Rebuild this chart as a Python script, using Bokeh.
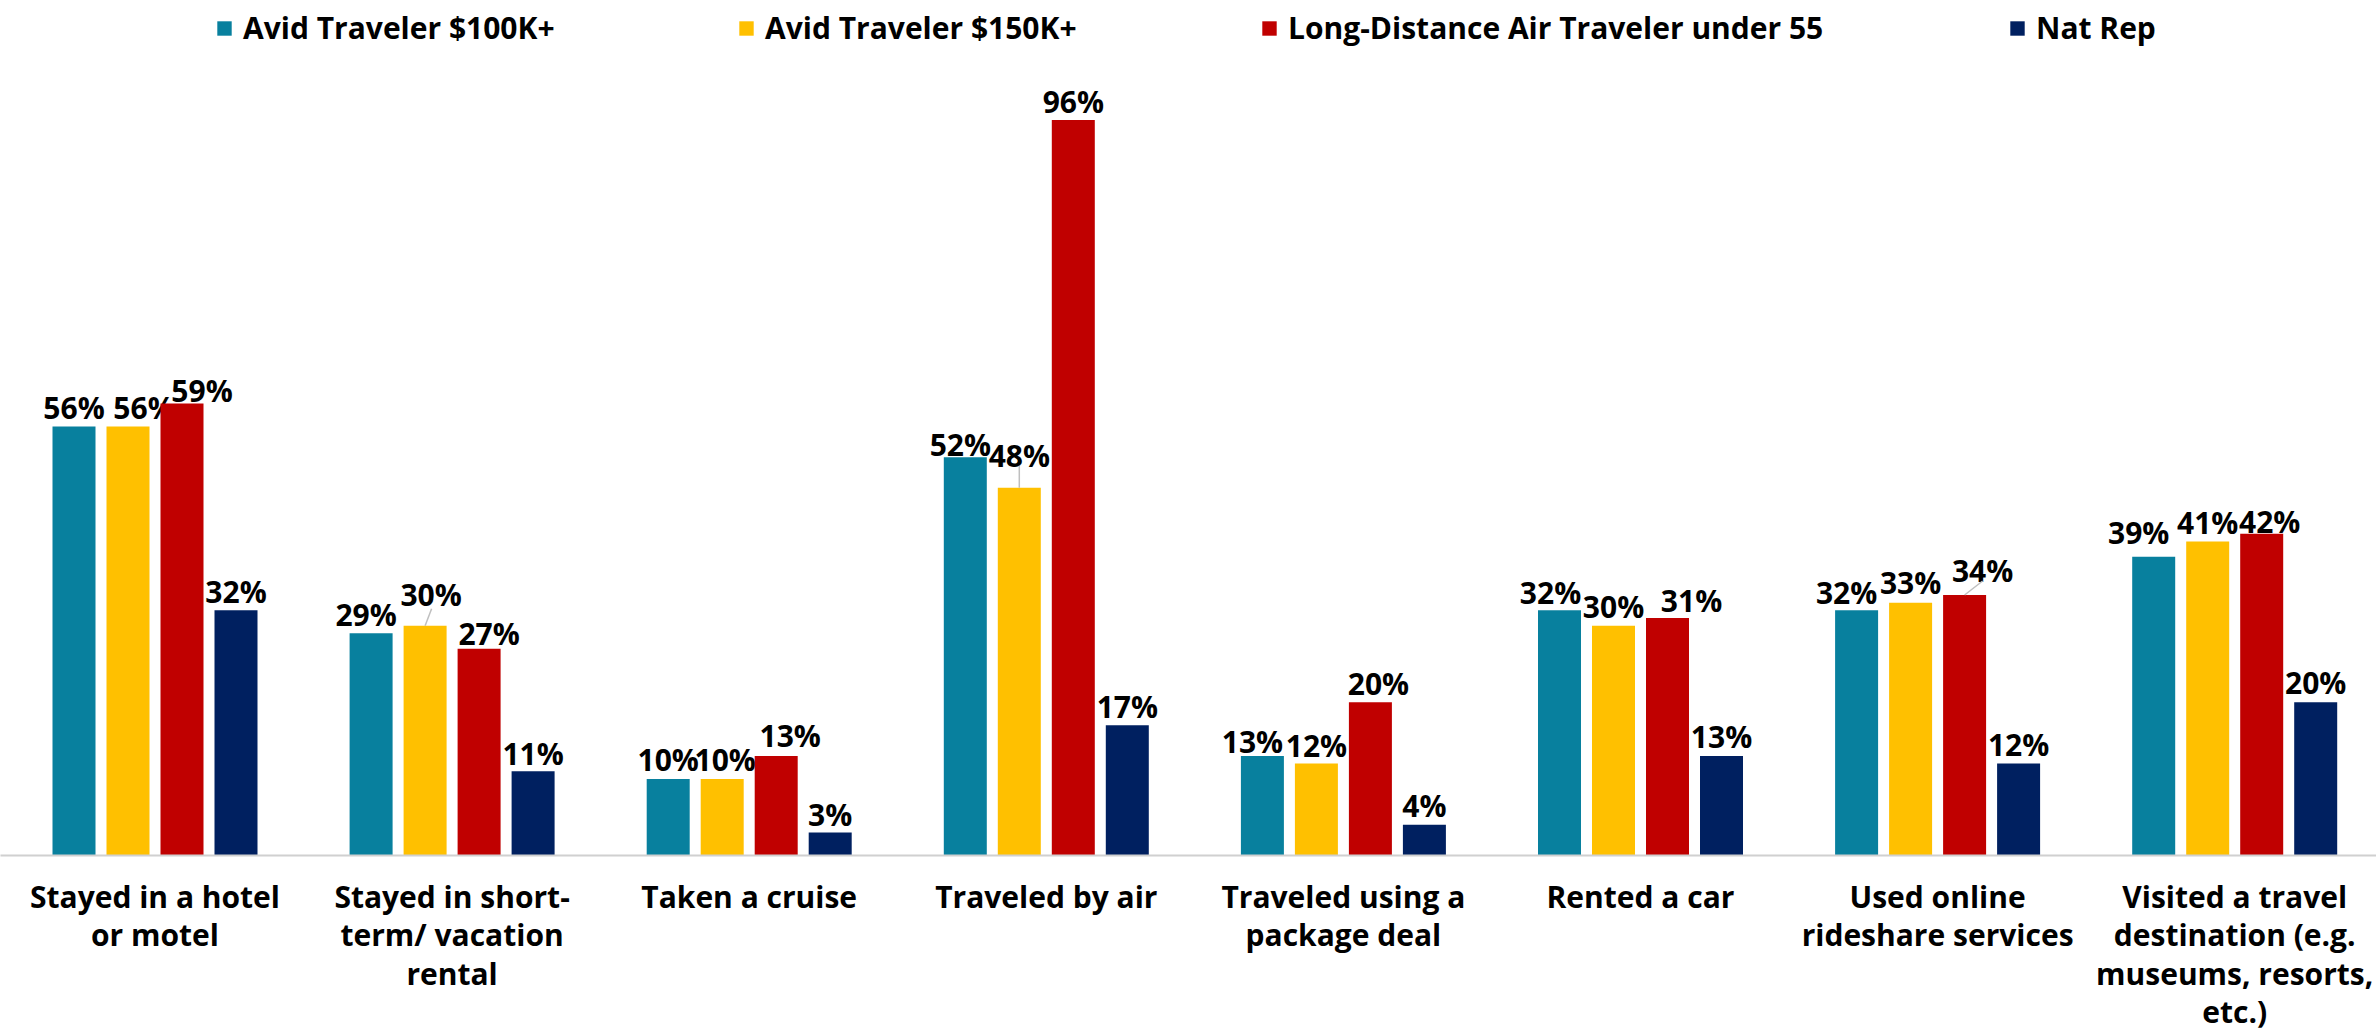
from bokeh.plotting import figure
from bokeh.models import Range1d, FixedTicker, Legend, LegendItem, ColumnDataSource
from bokeh.core.properties import value
from bokeh.embed import file_html
from bokeh.resources import INLINE

# ---------------- data ----------------
categories = [
    "Stayed in a hotel\nor motel",
    "Stayed in short-\nterm/ vacation\nrental",
    "Taken a cruise",
    "Traveled by air",
    "Traveled using a\npackage deal",
    "Rented a car",
    "Used online\nrideshare services",
    "Visited a travel\ndestination (e.g.\nmuseums, resorts,\netc.)",
]
series_names = [
    "Avid Traveler $100K+",
    "Avid Traveler $150K+",
    "Long-Distance Air Traveler under 55",
    "Nat Rep",
]
avid_100k = [56, 29, 10, 52, 13, 32, 32, 39]
avid_150k = [56, 30, 10, 48, 12, 30, 33, 41]
long_distance_u55 = [59, 27, 13, 96, 20, 31, 34, 42]
nat_rep = [32, 11, 3, 17, 4, 13, 12, 20]
series_values = [avid_100k, avid_150k, long_distance_u55, nat_rep]

# ---------------- style ----------------
colors = ["#08809E", "#FFC000", "#C00000", "#002060"]
FONT = "Open Sans"
FS = "30px"
FRAME_W, FRAME_H = 2376, 855
PX_PER_X = 297.1          # pixels per category
PX_PER_Y = 7.661          # pixels per percentage point
FIRST_CENTER_PX = 154.5
BAR_STEP = 54 / PX_PER_X
BAR_W = 43 / PX_PER_X
offsets = [-1.5 * BAR_STEP, -0.5 * BAR_STEP, 0.5 * BAR_STEP, 1.5 * BAR_STEP]
legend_x = [215, 737, 1260, 2008]   # legend entry positions (screen px)

# label nudges in screen px (Excel-style data label placement)
label_dx = [
    [0, -5, 0, -5, -10, -9, -10, -15],
    [16, 6, 3, 0, 0, 0, 0, 0],
    [20, 10, 14, 0, 8, 24, 18, 8],
    [0, 0, 0, 0, 0, 0, 0, 0],
]
label_dy = [
    [0, 0, 0, -6, -5, -1, -1, 5],
    [0, 12, 0, 13, -1, 0, 1, 0],
    [-6, -4, 1, 0, 0, -1, 6, -7],
    [0, -1, -1, 0, 0, 0, 0, 1],
]
BASE_GAP = 19
# leader lines: (series, category, end dx px, end dy px)
leaders = [(1, 1, 6.5, 17), (1, 3, 0, 22), (2, 6, 18, 14)]

x_start = -FIRST_CENTER_PX / PX_PER_X
x_end = x_start + FRAME_W / PX_PER_X
y_end = FRAME_H / PX_PER_Y

p = figure(
    frame_width=FRAME_W, frame_height=FRAME_H,
    x_range=Range1d(x_start, x_end), y_range=Range1d(0, y_end),
    output_backend="svg", toolbar_location=None,
    y_axis_location=None,
    min_border_left=0, min_border_right=0, min_border_top=0, min_border_bottom=0,
)
p.outline_line_color = None
p.xgrid.visible = False
p.ygrid.visible = False
p.background_fill_color = "white"
p.border_fill_color = "white"

idx = list(range(len(categories)))
legend_items = []
for s, (name, vals) in enumerate(zip(series_names, series_values)):
    xs = [i + offsets[s] for i in idx]
    src = ColumnDataSource(dict(
        x=xs, top=vals,
        lab=[f"{v}%" for v in vals],
        dx=label_dx[s],
        dy=[-(BASE_GAP + d) for d in label_dy[s]],
    ))
    r = p.vbar(x="x", top="top", bottom=0, width=BAR_W, source=src,
               fill_color=colors[s], line_color=None)
    legend_items.append(LegendItem(label=name, renderers=[r]))
    p.text(x="x", y="top", text="lab", x_offset="dx", y_offset="dy", source=src,
           text_font=value(FONT), text_font_style="bold", text_font_size=FS,
           text_color="black", text_align="center", text_baseline="alphabetic")

# leader lines
lx0, ly0, lx1, ly1 = [], [], [], []
for s, c, ex, ey in leaders:
    x0 = c + offsets[s]
    y0 = series_values[s][c]
    lx0.append(x0)
    ly0.append(y0)
    lx1.append(x0 + ex / PX_PER_X)
    ly1.append(y0 + ey / PX_PER_Y)
p.segment(x0=lx0, y0=ly0, x1=lx1, y1=ly1, line_color="#BFBFBF", line_width=1.5)

# x axis
ax = p.xaxis[0]
ax.ticker = FixedTicker(ticks=idx)
ax.major_label_overrides = {i: c for i, c in zip(idx, categories)}
ax.major_tick_out = 0
ax.major_tick_in = 0
ax.minor_tick_out = 0
ax.minor_tick_in = 0
ax.axis_line_color = "#D0D0D0"
ax.axis_line_width = 2
ax.major_label_text_font = FONT
ax.major_label_text_font_style = "bold"
ax.major_label_text_font_size = FS
ax.major_label_text_color = "black"
ax.major_label_text_line_height = 0.94
ax.major_label_standoff = 20
ax.major_label_orientation = "horizontal"

for item, lx in zip(legend_items, legend_x):
    legend = Legend(
        items=[item], orientation="horizontal",
        location=(lx, FRAME_H - 48),
        spacing=0, label_standoff=10, glyph_width=18, glyph_height=18,
        padding=0, margin=0, border_line_color=None, background_fill_alpha=0,
        label_text_font=FONT, label_text_font_style="bold", label_text_font_size=FS,
        label_text_color="black",
    )
    p.add_layout(legend, "center")

open("out.html", "w").write(file_html(p, INLINE))
